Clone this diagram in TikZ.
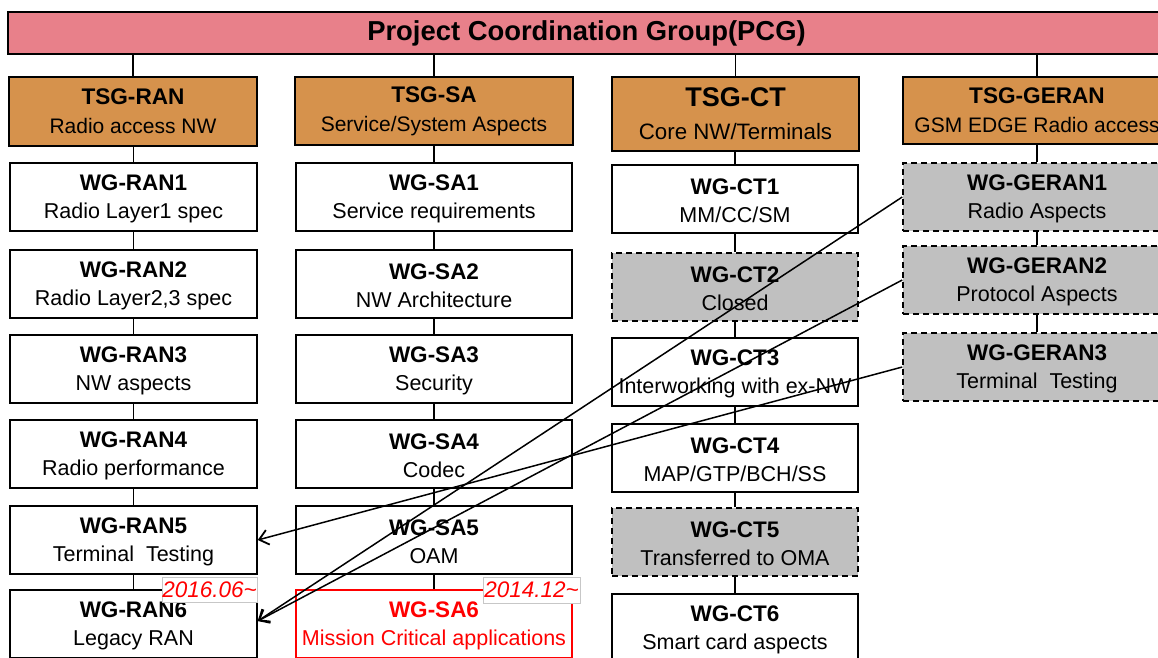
\documentclass[tikz,border=0pt]{standalone}
\usepackage{fontspec}
\setmainfont{Liberation Sans}
\usetikzlibrary{arrows.meta,calc}
\definecolor{pcgpink}{RGB}{232,128,138}
\definecolor{tsgorange}{RGB}{214,146,76}
\definecolor{closedgray}{RGB}{192,192,192}
\newcommand\wgt[2]{{\fontsize{22.5}{28}\selectfont\bfseries\rule{0pt}{20pt}#1}\\#2}
\begin{document}
\begin{tikzpicture}[x=1pt,y=-1pt,
  pcgbox/.style={draw, line width=2pt, fill=pcgpink, minimum width=1157pt, minimum height=42pt, inner sep=0pt, font=\fontsize{27.4}{30}\selectfont\bfseries},
  tsgbox/.style={draw, line width=2.5pt, fill=tsgorange, align=center, inner sep=0pt, font=\fontsize{21}{29}\selectfont},
  wgbox/.style={draw, line width=1.5pt, fill=white, align=center, inner sep=0pt, minimum height=68pt, font=\fontsize{21.5}{28}\selectfont},
  closedbox/.style={wgbox, fill=closedgray, dash pattern=on 6pt off 4pt},
  newbox/.style={wgbox, draw=red, text=red},
  ranw/.style={minimum width=247pt},
  saw/.style={minimum width=276pt},
  ctw/.style={minimum width=246pt},
  geranw/.style={minimum width=268pt},
  conn/.style={line width=1.5pt},
  moved/.style={line width=1.5pt, -{Straight Barb[length=9pt,width=15pt,line width=1.8pt]}},
  datebox/.style={draw=black!22, fill=white, line width=1pt, text=red, font=\fontsize{22.5}{24}\selectfont\itshape, inner sep=0pt}
]
\useasboundingbox (0,0) rectangle (1158,657);
\fill[white] (0,0) rectangle (1158,657);

% top
\node[pcgbox] (pcg) at (586.5,33) {\rule{0pt}{21pt}Project Coordination Group(PCG)};

% TSGs
\node[tsgbox, minimum width=248pt, minimum height=69pt] (tsgran) at (133,111.5)
  {{\fontsize{22.6}{29}\selectfont\bfseries TSG-RAN}\\Radio access NW};
\node[tsgbox, minimum width=278pt, minimum height=68pt] (tsgsa) at (434,111)
  {{\fontsize{22.6}{29}\selectfont\bfseries TSG-SA}\\Service/System Aspects};
\node[tsgbox, minimum width=247pt, minimum height=74pt, font=\fontsize{22.3}{33}\selectfont] (tsgct) at (735.5,114)
  {{\fontsize{27}{33}\selectfont\bfseries TSG-CT}\\Core NW/Terminals};
\node[tsgbox, minimum width=268pt, minimum height=67pt] (tsggeran) at (1037,110.5)
  {{\fontsize{22.6}{29}\selectfont\bfseries TSG-GERAN}\\GSM EDGE Radio access};

% RAN column
\node[wgbox, ranw] (ran1) at (133.5,197) {\wgt{WG-RAN1}{Radio Layer1 spec}};
\node[wgbox, ranw] (ran2) at (133.5,284) {\wgt{WG-RAN2}{Radio Layer2,3 spec}};
\node[wgbox, ranw] (ran3) at (133.5,369) {\wgt{WG-RAN3}{NW aspects}};
\node[wgbox, ranw] (ran4) at (133.5,454) {\wgt{WG-RAN4}{Radio performance}};
\node[wgbox, ranw] (ran5) at (133.5,540) {\wgt{WG-RAN5}{Terminal\ \ Testing}};
\node[wgbox, ranw] (ran6) at (133.5,624) {\wgt{WG-RAN6}{Legacy RAN}};

% SA column
\node[wgbox, saw] (sa1) at (434,197) {\wgt{WG-SA1}{Service requirements}};
\node[wgbox, saw] (sa2) at (434,284) {\wgt{WG-SA2}{NW Architecture}};
\node[wgbox, saw] (sa3) at (434,369) {\wgt{WG-SA3}{Security}};
\node[wgbox, saw] (sa4) at (434,454) {\wgt{WG-SA4}{Codec}};
\node[wgbox, saw] (sa5) at (434,540) {\wgt{WG-SA5}{OAM}};
\node[newbox, saw] (sa6) at (434,624) {\wgt{WG-SA6}{Mission Critical applications}};

% CT column
\node[wgbox, ctw] (ct1) at (735,199) {\wgt{WG-CT1}{MM/CC/SM}};
\node[closedbox, ctw] (ct2) at (735,287) {\wgt{WG-CT2}{Closed}};
\node[wgbox, ctw] (ct3) at (735,372) {\wgt{WG-CT3}{Interworking with ex-NW}};
\node[wgbox, ctw] (ct4) at (735,458) {\wgt{WG-CT4}{MAP/GTP/BCH/SS}};
\node[closedbox, ctw] (ct5) at (735,542) {\wgt{WG-CT5}{Transferred to OMA}};
\node[wgbox, ctw] (ct6) at (735,628) {\wgt{WG-CT6}{Smart card aspects}};

% GERAN column
\node[closedbox, geranw] (geran1) at (1037,197) {\wgt{WG-GERAN1}{Radio Aspects}};
\node[closedbox, geranw] (geran2) at (1037,280) {\wgt{WG-GERAN2}{Protocol Aspects}};
\node[closedbox, geranw] (geran3) at (1037,367) {\wgt{WG-GERAN3}{Terminal\ \ Testing}};

% tree connectors
\foreach \t in {tsgran,tsgsa,tsgct,tsggeran}
  \draw[conn] (\t.north) -- (\t.north |- pcg.south);
\foreach \a/\b in {tsgran/ran1,ran1/ran2,ran2/ran3,ran3/ran4,ran4/ran5,ran5/ran6,
                   tsgsa/sa1,sa1/sa2,sa2/sa3,sa3/sa4,sa4/sa5,sa5/sa6,
                   tsgct/ct1,ct1/ct2,ct2/ct3,ct3/ct4,ct4/ct5,ct5/ct6,
                   tsggeran/geran1,geran1/geran2,geran2/geran3}
  \draw[conn] (\b.north) -- (\b.north |- \a.south);

% transfers
\draw[moved] (geran1.west) -- ($(ran6.east)+(0,-3)$);
\draw[moved] (geran2.west) -- ($(ran6.east)+(0,-3)$);
\draw[moved] (geran3.west) -- (ran5.east);

% dates
\node[datebox, minimum width=95pt, minimum height=25pt] (d1) at (209.5,590) {2016.06\textasciitilde};
\node[datebox, minimum width=97pt, minimum height=26pt] (d2) at (531.5,590) {2014.12\textasciitilde};
\end{tikzpicture}
\end{document}
